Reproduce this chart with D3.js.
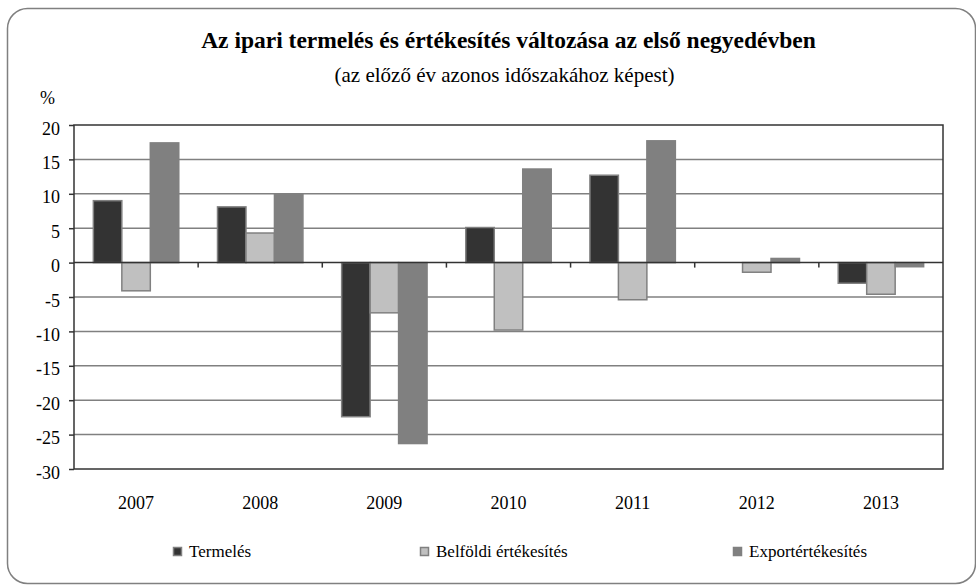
<!DOCTYPE html>
<html>
<head>
<meta charset="utf-8">
<script src="https://cdn.jsdelivr.net/npm/d3@7"></script>
<style>
body { margin: 0; background: #fff; }
svg text { font-family: "Liberation Serif", "Times New Roman", "DejaVu Serif", serif; fill: #000; }
</style>
</head>
<body>
<div id="chart"></div>
<script>
let years = ["2007", "2008", "2009", "2010", "2011", "2012", "2013"]

let seriesNames = ["Termelés", "Belföldi értékesítés", "Exportértékesítés"]

let termeles = [9.0, 8.1, -22.4, 5.1, 12.7, 0.0, -3.0]
let belfoldi = [-4.1, 4.3, -7.3, -9.8, -5.4, -1.4, -4.6]
let export_ = [17.4, 9.9, -26.3, 13.6, 17.7, 0.6, -0.6]

let yTicks = [20, 15, 10, 5, 0, -5, -10, -15, -20, -25, -30]

let colors = ["#333333", "#c0c0c0", "#808080"]

var W = 976, H = 586;
var margin = { top: 125, right: 33, bottom: 117, left: 74 };
var width = W - margin.left - margin.right;
var height = H - margin.top - margin.bottom;
var serif = "'Liberation Serif', 'Times New Roman', 'DejaVu Serif', serif";

var svg = d3.select("#chart")
    .append("svg")
    .attr("width", W)
    .attr("height", H);

// outer frame
svg.append("rect")
    .attr("x", 7.5)
    .attr("y", 8.5)
    .attr("width", 968)
    .attr("height", 575)
    .attr("rx", 20)
    .attr("fill", "#fff")
    .attr("stroke", "#808080")
    .attr("stroke-width", 1.5);

svg.append("text")
    .attr("x", margin.left + width / 2)
    .attr("y", 48)
    .style("text-anchor", "middle")
    .style("font-weight", "bold")
    .style("font-size", "23.5px")
    .text("Az ipari termelés és értékesítés változása az első negyedévben");

svg.append("text")
    .attr("x", margin.left + width / 2 - 4)
    .attr("y", 82)
    .style("text-anchor", "middle")
    .style("font-size", "21px")
    .text("(az előző év azonos időszakához képest)");

svg.append("text")
    .attr("x", 40)
    .attr("y", 104)
    .style("font-size", "18px")
    .text("%");

var g = svg.append("g")
    .attr("transform", "translate(" + margin.left + "," + margin.top + ")");

var y = d3.scaleLinear()
    .domain([-30, 20])
    .range([height, 0]);

var x0 = d3.scaleBand()
    .domain(years)
    .range([0, width])
    .padding(0);

var x1 = d3.scaleBand()
    .domain(d3.range(seriesNames.length))
    .range([0, x0.bandwidth()])
    .paddingInner(0)
    .paddingOuter(0.68);

// grid lines
g.selectAll(".grid")
    .data(yTicks.filter(d => d != 0 && d != 20 && d != -30))
    .enter().append("line")
    .attr("class", "grid")
    .attr("x1", 0)
    .attr("x2", width)
    .attr("y1", d => y(d))
    .attr("y2", d => y(d))
    .attr("stroke", "#808080")
    .attr("stroke-width", 1.5);

// plot border
g.append("rect")
    .attr("x", 0)
    .attr("y", 0)
    .attr("width", width)
    .attr("height", height)
    .attr("fill", "none")
    .attr("stroke", "#333")
    .attr("stroke-width", 1.5);

// y axis
var yAxis = g.append("g")
    .attr("font-family", serif)
    .call(d3.axisLeft(y).tickValues(yTicks).tickSize(5).tickPadding(9).tickFormat(d => String(d)));
yAxis.select(".domain").remove();
yAxis.selectAll(".tick line").attr("stroke", "#333").attr("stroke-width", 1.5);
yAxis.selectAll(".tick text")
    .attr("dy", "0.5em")
    .style("font-size", "18px")
    .style("font-family", serif)
    .attr("fill", "#000");

var table = years.map((yr, i) => ({ year: yr, values: [termeles[i], belfoldi[i], export_[i]] }));

var groups = g.selectAll(".year")
    .data(table)
    .enter().append("g")
    .attr("class", "year")
    .attr("transform", d => "translate(" + x0(d.year) + ",0)");

groups.selectAll("rect")
    .data(d => d.values.map((v, k) => ({ k: k, v: v })))
    .enter().append("rect")
    .attr("x", d => x1(d.k))
    .attr("y", d => y(Math.max(0, d.v)))
    .attr("width", x1.bandwidth())
    .attr("height", d => Math.abs(y(d.v) - y(0)))
    .attr("fill", d => colors[d.k])
    .attr("stroke", "#808080")
    .attr("stroke-width", 1.5);

// zero line with category ticks
g.append("line")
    .attr("x1", 0)
    .attr("x2", width)
    .attr("y1", y(0))
    .attr("y2", y(0))
    .attr("stroke", "#333")
    .attr("stroke-width", 1.5);

g.selectAll(".catTick")
    .data(years.slice(1))
    .enter().append("line")
    .attr("class", "catTick")
    .attr("x1", d => x0(d))
    .attr("x2", d => x0(d))
    .attr("y1", y(0))
    .attr("y2", y(0) + 5)
    .attr("stroke", "#333")
    .attr("stroke-width", 1.5);

g.selectAll(".yearLabel")
    .data(years)
    .enter().append("text")
    .attr("class", "yearLabel")
    .attr("x", d => x0(d) + x0.bandwidth() / 2)
    .attr("y", height + 40)
    .style("text-anchor", "middle")
    .style("font-size", "18px")
    .text(d => d);

// legend
var legendX = [173, 420, 733];

var legend = svg.selectAll(".legend")
    .data(seriesNames)
    .enter().append("g")
    .attr("class", "legend")
    .attr("transform", (d, i) => "translate(" + legendX[i] + ",547)");

legend.append("rect")
    .attr("x", 0.5)
    .attr("y", 0.5)
    .attr("width", 8)
    .attr("height", 8)
    .attr("fill", (d, i) => colors[i])
    .attr("stroke", "#808080")
    .attr("stroke-width", 1.5);

legend.append("text")
    .attr("x", 16)
    .attr("y", 10)
    .style("font-size", "17px")
    .text(d => d);
</script>
</body>
</html>
